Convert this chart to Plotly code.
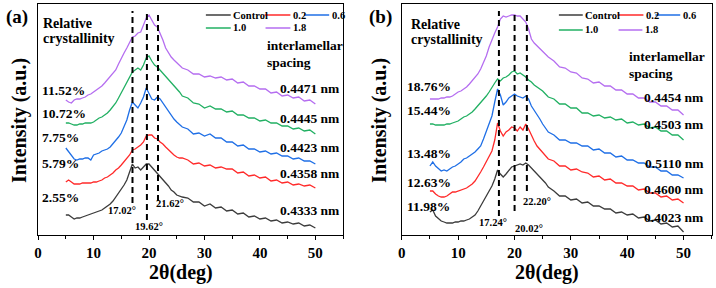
import plotly.graph_objects as go

# ---------------- data ----------------
two_theta = [5, 5.5, 6, 6.5, 7, 7.5, 8, 8.5, 9, 9.5, 10, 10.5, 11, 11.5, 12, 12.5, 13, 13.5,
             14, 14.5, 15, 15.5, 16, 16.5, 17, 17.5, 18, 18.5, 19, 19.5, 20, 20.5, 21, 21.5,
             22, 22.5, 23, 23.5, 24, 24.5, 25, 25.5, 26, 27, 28, 29, 30, 31, 32, 33, 34, 35,
             36, 37, 38, 39, 40, 41, 42, 43, 44, 45, 46, 47, 48, 49, 50]

series_names = ["Control", "0.2", "0.6", "1.0", "1.8"]

# panel (a)
a_control = [20, 20, 18, 16, 17, 17, 18, 19, 20, 21, 22, 23, 24, 25, 27, 29, 31, 34,
             38, 41, 45, 50, 55, 63, 71, 67, 68, 65, 68, 71, 71, 68, 65, 62,
             59, 56, 52, 49, 45, 43, 40, 39, 38, 37, 33, 33, 29, 31, 27, 28, 24, 25,
             21, 22, 18, 19, 16, 17, 14, 15, 12, 13, 11, 12, 9, 10, 7]
a_02 = [53, 55, 53, 51, 51, 51, 52, 52, 52, 52, 53, 53, 54, 55, 57, 58, 60, 62,
        65, 67, 70, 73, 77, 80, 85, 86, 88, 90, 93, 99, 100, 100, 97, 96,
        93, 91, 88, 85, 83, 80, 78, 77, 77, 75, 71, 72, 69, 70, 67, 68, 66, 66,
        62, 63, 59, 60, 57, 58, 54, 55, 52, 53, 50, 51, 49, 50, 47]
a_06 = [87, 83, 79, 76, 75, 76, 76, 77, 77, 75, 80, 81, 82, 84, 85, 86, 88, 91,
        95, 98, 102, 108, 115, 125, 133, 130, 127, 132, 138, 147, 142, 136, 135, 138,
        136, 132, 127, 123, 120, 116, 113, 110, 108, 106, 101, 102, 99, 101, 97, 97, 93, 93,
        89, 90, 86, 86, 83, 84, 81, 82, 79, 79, 76, 77, 74, 74, 71]
a_10 = [112, 112, 111, 110, 110, 111, 111, 112, 112, 112, 113, 115, 117, 118, 120, 122, 125, 128,
        132, 137, 142, 147, 152, 157, 163, 165, 167, 165, 170, 177, 179, 174, 170, 168,
        165, 161, 158, 155, 153, 150, 147, 143, 139, 137, 132, 131, 127, 129, 126, 126, 123, 124,
        120, 120, 117, 117, 114, 115, 112, 112, 109, 109, 106, 107, 104, 105, 101]
a_18 = [135, 133, 132, 135, 136, 136, 137, 138, 140, 141, 143, 145, 147, 149, 152, 155, 158, 161,
        165, 171, 177, 182, 187, 193, 198, 199, 202, 203, 210, 217, 220, 215, 210, 208,
        202, 195, 187, 182, 178, 175, 172, 169, 167, 165, 161, 161, 158, 159, 157, 158, 155, 156,
        152, 153, 149, 149, 146, 146, 142, 143, 139, 140, 137, 138, 134, 135, 131]

# panel (b)
b_control = [23, 25, 19, 16, 14, 13, 12, 12, 12, 13, 13, 14, 14, 15, 16, 18, 20, 24,
             29, 34, 39, 44, 49, 56, 65, 61, 58, 61, 65, 68, 69, 70, 71, 70,
             72, 70, 67, 65, 62, 59, 55, 52, 48, 44, 39, 39, 35, 36, 32, 33, 29, 29,
             26, 26, 22, 23, 20, 21, 17, 18, 14, 15, 11, 12, 8, 9, 3]
b_02 = [44, 44, 41, 39, 38, 38, 39, 41, 43, 43, 44, 45, 46, 47, 49, 51, 54, 58,
        63, 68, 73, 78, 84, 95, 112, 104, 99, 103, 105, 108, 107, 104, 108, 105,
        111, 106, 99, 94, 89, 86, 83, 79, 76, 74, 69, 69, 65, 66, 63, 62, 58, 59,
        55, 56, 52, 52, 49, 49, 45, 46, 42, 42, 38, 39, 35, 36, 32]
b_06 = [69, 73, 69, 66, 64, 65, 64, 66, 68, 69, 71, 73, 76, 77, 79, 81, 83, 86,
        89, 96, 103, 111, 119, 133, 146, 140, 130, 133, 137, 139, 141, 139, 138, 137,
        139, 136, 129, 125, 121, 116, 111, 107, 103, 100, 95, 95, 92, 92, 89, 89, 85, 86,
        82, 82, 78, 79, 75, 75, 72, 72, 68, 68, 64, 64, 60, 60, 57]
b_10 = [111, 111, 110, 110, 110, 110, 111, 111, 112, 113, 114, 116, 118, 119, 121, 123, 126, 129,
        133, 136, 139, 143, 148, 152, 156, 154, 157, 158, 160, 163, 164, 161, 162, 160,
        158, 155, 153, 150, 148, 146, 144, 141, 138, 136, 131, 131, 127, 127, 122, 122, 119, 120,
        117, 118, 115, 116, 112, 113, 110, 111, 107, 108, 104, 104, 100, 100, 95]
b_18 = [136, 136, 136, 136, 137, 137, 138, 138, 139, 141, 143, 144, 146, 148, 151, 154, 157, 161,
        166, 172, 179, 188, 196, 202, 208, 216, 219, 218, 219, 220, 220, 219, 219, 216,
        213, 206, 196, 192, 189, 186, 183, 180, 178, 174, 168, 167, 163, 162, 157, 156, 152, 153,
        149, 149, 145, 145, 141, 141, 137, 137, 133, 133, 129, 129, 125, 125, 120]

a_peaks = [17.02, 19.62, 21.62]
b_peaks = [17.24, 20.02, 22.20]
a_crystallinity = ["11.52%", "10.72%", "7.75%", "5.79%", "2.55%"]
b_crystallinity = ["18.76%", "15.44%", "13.48%", "12.63%", "11.98%"]
a_spacing = ["0.4471 nm", "0.4445 nm", "0.4423 nm", "0.4358 nm", "0.4333 nm"]
b_spacing = ["0.4454 nm", "0.4503 nm", "0.5110 nm", "0.4600 nm", "0.4023 nm"]
x_ticks = [0, 10, 20, 30, 40, 50]

colors = ["#3c3c3c", "#ff2a2a", "#1f6fe6", "#22b063", "#b56ef0"]

# ---------------- figure ----------------
W, H = 716, 288
SERIF = "Liberation Serif"


def px(x):
    return x / W


def py(y):
    return 1 - y / H


fig = go.Figure()
for name, ys, c in zip(series_names, [a_control, a_02, a_06, a_10, a_18], colors):
    fig.add_trace(go.Scatter(x=two_theta, y=ys, mode="lines", name=name,
                             line=dict(color=c, width=1.3), showlegend=False,
                             xaxis="x", yaxis="y"))
for name, ys, c in zip(series_names, [b_control, b_02, b_06, b_10, b_18], colors):
    fig.add_trace(go.Scatter(x=two_theta, y=ys, mode="lines", name=name,
                             line=dict(color=c, width=1.3), showlegend=False,
                             xaxis="x2", yaxis="y2"))

ydom = [py(235), py(4)]
axis_common = dict(showgrid=False, zeroline=False, showline=True, linecolor="black",
                   linewidth=1, mirror=True)
xcommon = dict(axis_common, range=[0, 55], tickvals=x_ticks, ticks="outside", ticklen=4,
               tickwidth=1, tickcolor="black",
               tickfont=dict(family=SERIF, size=15, color="black", weight="bold"),
               minor=dict(dtick=5, ticks="outside", ticklen=3, tickcolor="black", tickwidth=1))
ycommon = dict(axis_common, range=[0, 231], showticklabels=False, ticks="")

fig.update_layout(
    width=W, height=H, margin=dict(l=0, r=0, t=0, b=0),
    paper_bgcolor="white", plot_bgcolor="white",
    xaxis=dict(xcommon, domain=[px(34.3), px(341)], anchor="y"),
    yaxis=dict(ycommon, domain=ydom, anchor="x"),
    xaxis2=dict(xcommon, domain=[px(400), px(711.7)], anchor="y2"),
    yaxis2=dict(ycommon, domain=ydom, anchor="x2"),
)

ann = []
shapes = []


def text(x, y, s, size, anchor="left", bold=True, angle=0):
    ann.append(dict(x=px(x), y=py(y), xref="paper", yref="paper", text=s, showarrow=False,
                    xanchor=anchor, yanchor="middle", textangle=angle,
                    font=dict(family=SERIF, size=size, color="black",
                              weight="bold" if bold else "normal")))


# panel labels & axis titles
for lab, lx, yt_x, xt_x in [("(a)", 13, 15, 178), ("(b)", 379, 377, 546)]:
    text(lx, 17, lab, 19, "center")
    text(yt_x, 120, "Intensity (a.u.)", 20, "center", angle=-90)
    text(xt_x, 272, "2θ(deg)", 20, "center")

# annotations panel (a)
text(37, 23, "Relative", 14)
text(37, 39, "crystallinity", 14)
for s, yy in zip(a_crystallinity, [90, 114, 137, 163, 197]):
    text(36, yy, s, 13.5)
text(262, 45, "interlamellar", 13.5)
text(262, 62, "spacing", 13.5)
for s, yy in zip(a_spacing, [88, 118, 147, 173, 210]):
    text(340, yy, s, 13.5, "right")

# annotations panel (b)
text(407, 24, "Relative", 14)
text(407, 40, "crystallinity", 14)
for s, yy in zip(b_crystallinity, [86, 110, 153, 182, 206]):
    text(403, yy, s, 13.5)
text(627, 57, "interlamellar", 13.5)
text(627, 73, "spacing", 13.5)
for s, yy in zip(b_spacing, [97, 124, 163, 189, 217]):
    text(706, yy, s, 13.5, "right")

# peak dashed lines and labels
a_line_ends = [32, 15, 34]
b_line_ends = [19, 24, 44]
for xr, peaks, ends in [("x", a_peaks, a_line_ends), ("x2", b_peaks, b_line_ends)]:
    yr = "y" if xr == "x" else "y2"
    for p, e in zip(peaks, ends):
        shapes.append(dict(type="line", xref=xr, yref=yr, x0=p, x1=p, y0=e, y1=224,
                           line=dict(color="black", width=2, dash="6px,4px")))
for s, (xx, yy) in zip([f"{p:.2f}°" for p in a_peaks], [(118.5, 210), (146, 226), (167, 203)]):
    text(xx, yy, s, 10.5, "center")
for s, (xx, yy) in zip([f"{p:.2f}°" for p in b_peaks], [(491.5, 222), (527.5, 228), (536, 201)]):
    text(xx, yy, s, 10.5, "center")

# legends (two rows inside each panel)
legend_layout_a = [(203, 228, 15), (262, 288, 15), (302, 327, 15), (203, 228, 28), (263, 288, 28)]
legend_layout_b = [(558, 582, 15), (617, 643, 15), (655, 680, 15), (558, 582, 30), (618, 642, 30)]
for lay in [legend_layout_a, legend_layout_b]:
    for name, c, (x0, x1, yy) in zip(series_names, colors, lay):
        shapes.append(dict(type="line", xref="paper", yref="paper", x0=px(x0), x1=px(x1),
                           y0=py(yy), y1=py(yy), line=dict(color=c, width=1.5)))
        text(x1 + 0.5, yy, name, 10.5)

fig.update_layout(annotations=ann, shapes=shapes)
fig.write_html("out.html", config={"displayModeBar": False},
               post_script="document.body.style.margin='0';document.body.style.overflow='hidden';")
